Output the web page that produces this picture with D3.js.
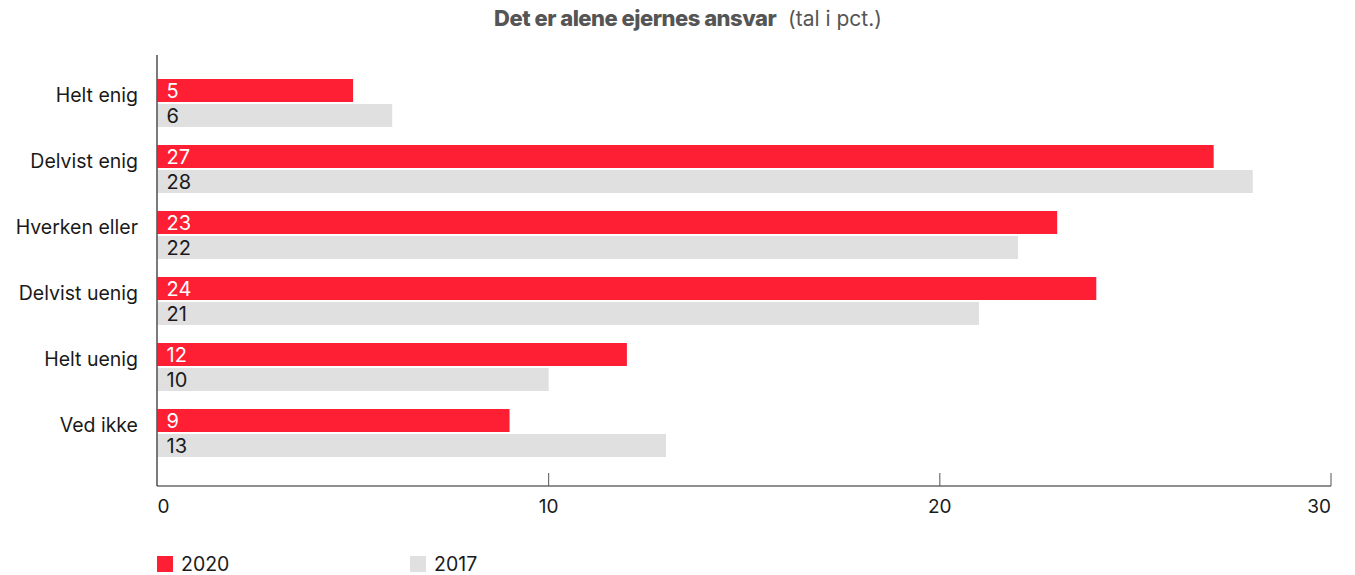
<!DOCTYPE html>
<html>
<head>
<meta charset="utf-8">
<script src="https://cdn.jsdelivr.net/npm/d3@7"></script>
<style>
  body { margin: 0; background: #fff; }
  svg text { font-family: Inter, "Noto Sans", sans-serif; }
</style>
</head>
<body>
<svg id="chart" width="1355" height="575"></svg>
<script>
var categories = ["Helt enig", "Delvist enig", "Hverken eller", "Delvist uenig", "Helt uenig", "Ved ikke"];
var series = ["2020", "2017"];
var values2020 = [5, 27, 23, 24, 12, 9];
var values2017 = [6, 28, 22, 21, 10, 13];
var xTicks = [0, 10, 20, 30];
var colors = {"2020": "#fe1f35", "2017": "#e0e0e0"};
var labelColors = {"2020": "#ffffff", "2017": "#1a1a1a"};

var svg = d3.select("#chart");
var axisY = 486;

var x = d3.scaleLinear().domain([0, 30]).range([157.5, 1331]);
var y = d3.scaleBand().domain(categories).range([70, 466]).paddingInner(18/66).paddingOuter(0.1364);
var ySub = d3.scaleBand().domain(series).range([0, y.bandwidth()]).paddingInner(0.08);

// title
var title = svg.append("text")
  .attr("x", 688).attr("y", 26)
  .attr("text-anchor", "middle")
  .style("font-size", "22px");
title.append("tspan").text("Det er alene ejernes ansvar")
  .style("font-weight", "800").style("fill", "#555").style("letter-spacing", "-0.5px");
title.append("tspan").text(" (tal i pct.)")
  .style("fill", "#555").style("font-size", "21px").attr("dx", 6);

// bars
var groups = svg.append("g").selectAll("g")
  .data(categories)
  .enter()
  .append("g")
  .attr("transform", function(d){ return "translate(0," + y(d) + ")"; });

groups.each(function(cat, i){
  var g = d3.select(this);
  var rows = [{s: "2020", v: values2020[i]}, {s: "2017", v: values2017[i]}];
  g.selectAll("rect")
    .data(rows)
    .enter()
    .append("rect")
    .attr("x", x(0))
    .attr("y", function(d){ return ySub(d.s); })
    .attr("width", function(d){ return x(d.v) - x(0); })
    .attr("height", ySub.bandwidth())
    .attr("fill", function(d){ return colors[d.s]; });
  g.selectAll("text.val")
    .data(rows)
    .enter()
    .append("text")
    .attr("class", "val")
    .attr("x", x(0) + 9)
    .attr("y", function(d){ return ySub(d.s) + ySub.bandwidth()/2 + 7.5; })
    .style("font-size", "20px")
    .style("fill", function(d){ return labelColors[d.s]; })
    .text(function(d){ return d.v; });
});

// category labels
svg.append("g").selectAll("text")
  .data(categories)
  .enter()
  .append("text")
  .attr("x", 138)
  .attr("y", function(d){ return y(d) + y.bandwidth()/2 - 1; })
  .attr("text-anchor", "end")
  .style("font-size", "19.5px")
  .style("fill", "#1a1a1a")
  .text(function(d){ return d; });

// axes lines
svg.append("line")
  .attr("x1", 157).attr("x2", 157).attr("y1", 55).attr("y2", axisY)
  .attr("stroke", "#222").attr("stroke-width", 1.2);
svg.append("line")
  .attr("x1", 157).attr("x2", x(30)).attr("y1", axisY).attr("y2", axisY)
  .attr("stroke", "#222").attr("stroke-width", 1.2);

svg.append("g").selectAll("line")
  .data(xTicks.slice(1))
  .enter()
  .append("line")
  .attr("x1", function(d){ return x(d); })
  .attr("x2", function(d){ return x(d); })
  .attr("y1", axisY - 13).attr("y2", axisY)
  .attr("stroke", "#555").attr("stroke-width", 1);

svg.append("g").selectAll("text")
  .data(xTicks)
  .enter()
  .append("text")
  .attr("x", function(d){ return x(d); })
  .attr("y", 513)
  .attr("text-anchor", function(d, i){
    if (i === 0) return "start";
    if (i === xTicks.length - 1) return "end";
    return "middle";
  })
  .style("font-size", "19px")
  .style("fill", "#1a1a1a")
  .text(function(d){ return d; });

// legend
var legendX = [157, 410];
var legend = svg.append("g").selectAll("g")
  .data(series)
  .enter()
  .append("g")
  .attr("transform", function(d, i){ return "translate(" + legendX[i] + ",556)"; });
legend.append("rect")
  .attr("width", 16).attr("height", 16)
  .attr("fill", function(d){ return colors[d]; });
legend.append("text")
  .attr("x", 24).attr("y", 15)
  .style("font-size", "19.5px")
  .style("fill", "#1a1a1a")
  .text(function(d){ return d; });
</script>
</body>
</html>
